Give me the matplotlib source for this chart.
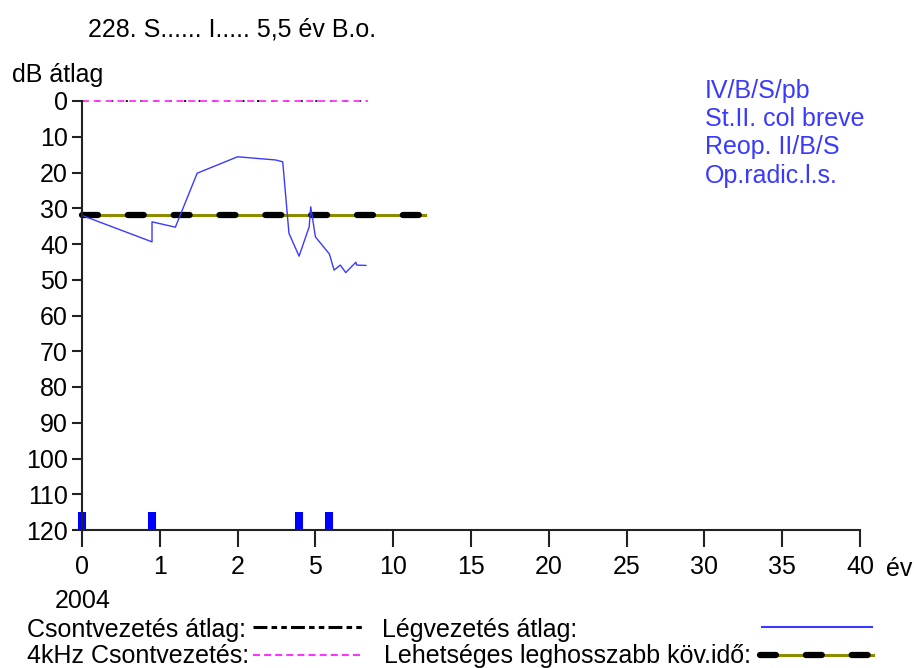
import matplotlib
matplotlib.use("Agg")
import matplotlib.pyplot as plt
import numpy as np

plt.rcParams["font.family"] = ["Liberation Sans", "DejaVu Sans"]
plt.rcParams["lines.scale_dashes"] = False

# x axis: equally spaced ticks with non-linear year values
tick_years = [0, 1, 2, 5, 10, 15, 20, 25, 30, 35, 40]
y_ticks = list(range(0, 130, 10))

# air conduction average (year, dB)
air_years = [0, 0.9, 0.9, 1.2, 1.48, 2.0, 3.47, 3.74, 3.98, 4.37, 4.76, 4.82,
             5.0, 5.9, 6.2, 6.6, 6.95, 7.6, 7.65, 8.25]
air_db = [32, 39.4, 33.8, 35.3, 20.2, 15.6, 16.5, 17, 37, 43.4, 35.2, 29.6,
          38, 42.8, 47.3, 45.9, 48, 45.1, 45.9, 46]

# bone conduction / 4 kHz bone conduction (at 0 dB)
bone_years = [0, 8.35]
bone_db = [0, 0]

# longest possible follow-up time
follow_years = [0, 12.05]
follow_db = [32, 32]

# operation markers
op_years = [0, 0.9, 4.37, 5.87]
op_bottom = 120
op_top = 115

notes = ["IV/B/S/pb", "St.II. col breve", "Reop. II/B/S", "Op.radic.l.s."]

W, H = 914, 668
fig = plt.figure(figsize=(W / 100, H / 100), dpi=100)
ax = fig.add_axes([82 / W, (H - 530) / H, 778 / W, 429 / H])

pos = np.arange(len(tick_years))
ax.set_xscale("function",
              functions=(lambda x: np.interp(x, tick_years, pos),
                         lambda p: np.interp(p, pos, tick_years)))
ax.set_xlim(0, 40)
ax.set_ylim(120, 0)
ax.set_xticks(tick_years)
ax.set_xticklabels([str(t) for t in tick_years])
ax.set_yticks(y_ticks)
ax.xaxis.set_minor_locator(matplotlib.ticker.NullLocator())

fs = 18
for s in ["top", "right"]:
    ax.spines[s].set_visible(False)
for s in ["left", "bottom"]:
    ax.spines[s].set_linewidth(1.5)
    ax.spines[s].set_color("#222222")
ax.tick_params(axis="x", length=12, width=1.5, pad=6, labelsize=fs, color="#222222")
ax.tick_params(axis="y", length=7, width=1.5, pad=3, labelsize=fs, color="#222222")

# bone conduction (black) with 4kHz (magenta dashed) on top
ax.plot(bone_years, bone_db, color="black", lw=1.3, dashes=(1.5, 9), clip_on=False)
ax.plot(bone_years, bone_db, color="#ff33ff", lw=1.3, dashes=(5, 3.5), clip_on=False)

# follow-up line
ax.plot(follow_years, follow_db, color="#8c8c00", lw=2.2, clip_on=False)
ax.plot(follow_years, follow_db, color="black", lw=4.5, dashes=(11.5, 21.5),
        dash_capstyle="round", clip_on=False)

ax.plot(air_years, air_db, color="#3a3aff", lw=1.0, clip_on=False)

ax.vlines(op_years, op_top, op_bottom, color="#0000ff", lw=5.8, clip_on=False)

# overlay in pixel coordinates for texts and legend
ov = fig.add_axes([0, 0, 1, 1])
ov.set_xlim(0, W)
ov.set_ylim(H, 0)
ov.axis("off")

ov.text(88, 37, "228. S...... I..... 5,5 év B.o.", fontsize=fs, va="baseline")
ov.text(12, 82, "dB átlag", fontsize=fs, va="baseline")
for i, n in enumerate(notes):
    ov.text(705, 98 + i * 28.2, n, fontsize=fs, va="baseline", color="#3a3aff")
ov.text(55, 608, "2004", fontsize=fs, va="baseline")
ov.text(886, 576, "év", fontsize=fs, va="baseline")

ov.text(27, 637, "Csontvezetés átlag:", fontsize=fs, va="baseline")
ov.text(27, 663, "4kHz Csontvezetés:", fontsize=fs, va="baseline")
ov.text(382, 637, "Légvezetés átlag:", fontsize=fs, va="baseline")
ov.text(384, 663, "Lehetséges leghosszabb köv.idő:", fontsize=fs, va="baseline")

ov.plot([253, 362], [627, 627], color="black", lw=2.2, dashes=(10, 3, 4, 3, 4, 3))
ov.plot([253, 362], [655, 655], color="#ff33ff", lw=1.5, dashes=(5, 3))
ov.plot([762, 872], [627, 627], color="#3a3aff", lw=1.5)
ov.plot([760, 873], [655, 655], color="#8c8c00", lw=2.2)
ov.plot([760, 873], [655, 655], color="black", lw=4.5, dashes=(11.5, 21.5),
        dash_capstyle="round")

fig.savefig("out.png", dpi=100)
